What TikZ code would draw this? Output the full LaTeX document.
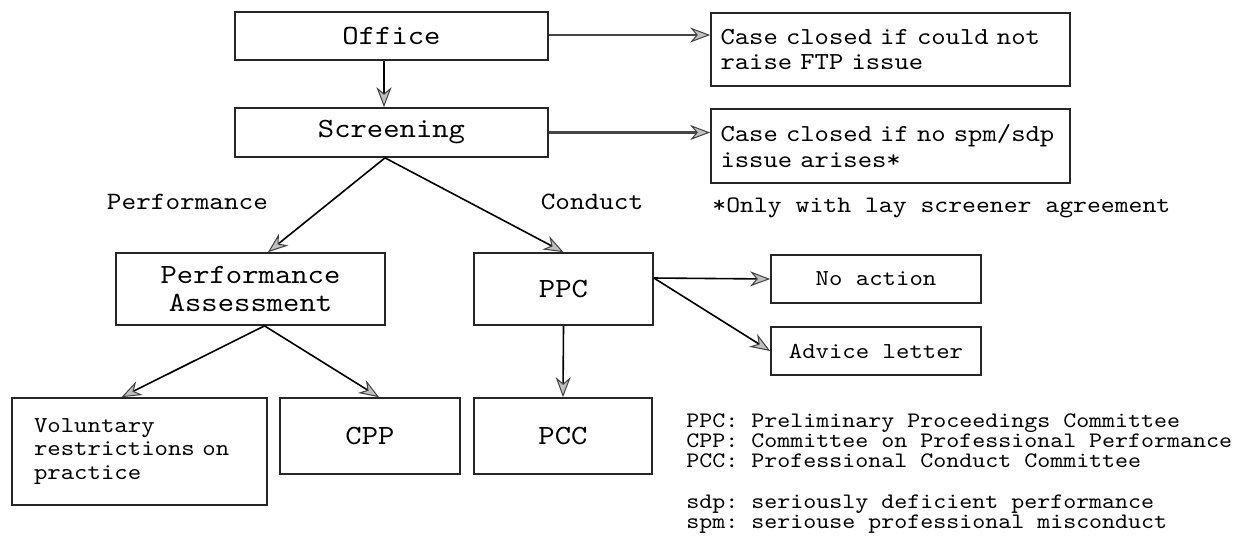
\documentclass[tikz,border=0pt]{standalone}
\usepackage{fontspec}
\setmonofont[FakeStretch=1.12]{lmmono10-regular.otf}
\usetikzlibrary{arrows.meta}
\begin{document}
\begin{tikzpicture}[x=0.5pt,y=-0.5pt,
  box/.style={draw=black!85, line width=0.85pt, inner sep=0pt},
  bigf/.style={font=\ttfamily\fontsize{13.9}{13.8}\selectfont},
  midf/.style={font=\ttfamily\fontsize{12.45}{13}\selectfont},
  casef/.style={font=\ttfamily\fontsize{12.2}{12.6}\selectfont},
  footf/.style={font=\ttfamily\fontsize{11.8}{12.6}\selectfont},
  smallf/.style={font=\ttfamily\fontsize{11.4}{11.8}\selectfont},
  legf/.style={font=\ttfamily\fontsize{11.05}{10}\selectfont, anchor=base west, inner sep=0pt},
  arr/.style={-{Stealth[length=10pt,width=7.5pt,inset=3.2pt,fill=gray!50,color=black!75,line width=0.5pt]}, line width=0.8pt},
  garr/.style={arr, draw=gray!55!black, line width=1.3pt},
]
\useasboundingbox (0,0) rectangle (1247,538);

% top row
\node[box, bigf, minimum width=156.5pt, minimum height=24pt] (office) at (391.5,36) {Office};
\node[box, bigf, minimum width=156.5pt, minimum height=24.5pt] (screen) at (391.5,132.5) {Screening};
\node[box, casef, minimum width=179.5pt, minimum height=36.5pt, align=left, text width=170pt] (close1) at (890.5,49.5) {Case closed if could not\\raise FTP issue\\[0.35em]};
\node[box, casef, minimum width=179.5pt, minimum height=37pt, align=left, text width=170pt] (close2) at (890.5,146) {Case closed if no spm/sdp\\issue arises*};

% labels
\node[midf] (lperf) at (187.5,202) {Performance};
\node[midf] (lcond) at (592,202) {Conduct};
\node[footf, anchor=west, inner sep=0pt] (foot) at (712,208) {*Only with lay screener agreement};

% middle row
\node[box, bigf, minimum width=134.5pt, minimum height=36pt, align=center] (pa) at (250.5,289) {Performance\\Assessment};
\node[box, bigf, minimum width=89.5pt, minimum height=36pt] (ppc) at (563.5,289) {PPC};
\node[box, smallf, minimum width=105pt, minimum height=24pt] (noact) at (876,279) {No action};
\node[box, smallf, minimum width=105pt, minimum height=24pt] (advice) at (876,351) {Advice letter};

% bottom row
\node[box, smallf, minimum width=127.5pt, minimum height=53.5pt, align=left, text width=105.5pt] (vol) at (139.5,451.5) {Voluntary\\restrictions on\\practice\\[1.3em]};
\node[box, bigf, minimum width=90pt, minimum height=38pt] (cpp) at (370,436) {CPP};
\node[box, bigf, minimum width=89pt, minimum height=38pt] (pcc) at (563,436) {PCC};

% legend
\node[legf] (leg1) at (686,427) {PPC: Preliminary Proceedings Committee};
\node[legf] (leg2) at (686,447) {CPP: Committee on Professional Performance};
\node[legf] (leg3) at (686,467) {PCC: Professional Conduct Committee};
\node[legf] (leg4) at (686,508) {sdp: seriously deficient performance};
\node[legf] (leg5) at (686,528) {spm: seriouse professional misconduct};

% connectors
\draw[arr] ([xshift=-3.75pt]office.south) -- ([xshift=-3.75pt]screen.north);
\draw[garr] ([yshift=0.5pt]office.east) -- ([yshift=0.5pt]office.east -| close1.west);
\draw[garr] (screen.east) -- (screen.east -| close2.west);
\draw[arr] ([xshift=-3.25pt]screen.south) -- ([xshift=8.75pt]pa.north);
\draw[arr] ([xshift=-3.25pt]screen.south) -- (ppc.north);
\draw[arr] ([xshift=7pt]pa.south) -- ([xshift=-9pt]vol.north);
\draw[arr] ([xshift=7pt]pa.south) -- ([xshift=4.5pt]cpp.north);
\draw[arr] ([yshift=5.5pt]ppc.east) -- (noact.west);
\draw[arr] ([yshift=5.5pt]ppc.east) -- (advice.west);
\draw[arr] (ppc.south) -- (pcc.north);
\end{tikzpicture}
\end{document}
